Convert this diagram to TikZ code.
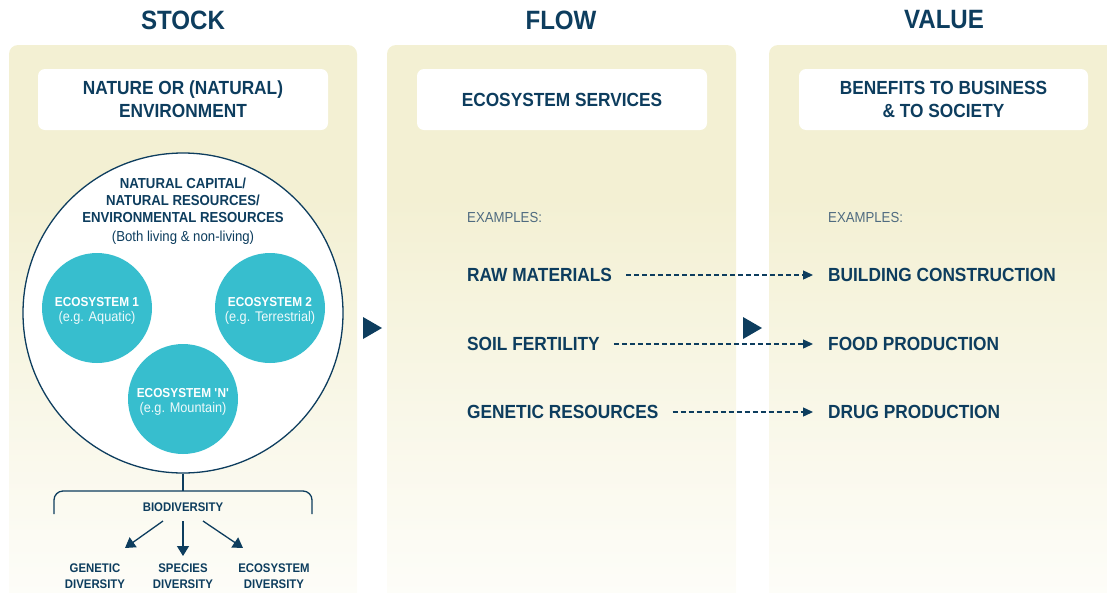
\documentclass[tikz,border=0pt]{standalone}
\usepackage{fontspec}
\setmainfont{Liberation Sans}[FakeStretch=0.91]
\usetikzlibrary{arrows.meta}
\definecolor{navy}{HTML}{0D3D5E}
\definecolor{ecoteal}{HTML}{37BECE}
\definecolor{beige}{HTML}{F3F0D3}
\definecolor{exgray}{HTML}{4F6B80}
\colorlet{beigemid}{beige!55!white}
\colorlet{beigebot}{beige!8!white}
\newcommand{\myecosub}{\fontsize{14}{15}\selectfont\mdseries\color{white!92!ecoteal}}
\pgfdeclareverticalshading{panelshade}{100bp}{color(0bp)=(beigebot); color(25bp)=(beigebot); color(45bp)=(beigemid); color(62bp)=(beige); color(100bp)=(beige)}
\tikzset{
  titletxt/.style={text=navy, font=\fontsize{26.5}{30}\selectfont\bfseries, inner sep=0pt},
  panel/.style={shading=panelshade, rounded corners=9pt},
  wbox/.style={fill=white, rounded corners=7pt, minimum height=61pt, text=navy, align=center, font=\fontsize{19}{23}\selectfont\bfseries},
  item/.style={text=navy, anchor=west, inner sep=0pt, font=\fontsize{19}{23}\selectfont\bfseries},
  extxt/.style={text=exgray, anchor=west, inner sep=0pt, font=\fontsize{14.5}{16}\selectfont},
  eco/.style={circle, fill=ecoteal, minimum size=110pt, inner sep=0pt},
  ecotxt/.style={text=white, align=center, inner sep=0pt, font=\fontsize{13}{15}\selectfont\bfseries},
  divtxt/.style={text=navy, align=center, inner sep=0pt, font=\fontsize{12.5}{16}\selectfont\bfseries},
  flowarr/.style={navy, line width=1.3pt, dash pattern=on 5pt off 3pt, -{Triangle[length=10pt,width=9pt]}, shorten <=14pt, shorten >=15pt},
  bioarr/.style={navy, line width=1.3pt, -{Triangle[length=10pt,width=12pt]}},
  bigtri/.style={fill=navy}
}
\begin{document}
\begin{tikzpicture}[x=1pt,y=-1pt]
\useasboundingbox (0,0) rectangle (1107,592);
\clip (0,0) rectangle (1107,592);
% panels
\shade[panel] (9,630) -- (9,45) -- (357,45) -- (357,630) -- cycle;
\shade[panel] (387,630) -- (387,45) -- (736,45) -- (736,630) -- cycle;
\shade[panel] (769,630) -- (769,45) -- (1125,45) -- (1125,630) -- cycle;
% titles
\node[titletxt] (tstock) at (183,20) {STOCK};
\node[titletxt] (tflow) at (561,20) {FLOW};
\node[titletxt] (tvalue) at (944,20) {VALUE};
% white boxes
\node[wbox, minimum width=290pt] (box1) at (183,99.5) {NATURE OR (NATURAL)\\ENVIRONMENT};
\node[wbox, minimum width=290pt] (box2) at (562,99.5) {ECOSYSTEM SERVICES};
\node[wbox, minimum width=289pt] (box3) at (943.5,99.5) {BENEFITS TO BUSINESS\\\& TO SOCIETY};
% big circle
\node[circle, draw=navy, line width=1.3pt, fill=white, minimum size=320pt, inner sep=0pt] (bigc) at (183,313) {};
\node[text=navy, align=center, inner sep=0pt, font=\fontsize{14.5}{17}\selectfont\bfseries] (captxt) at (183,211)
  {NATURAL CAPITAL/\\NATURAL RESOURCES/\\ENVIRONMENTAL RESOURCES\\[2pt]{\mdseries (Both living \& non-living)}};
% ecosystems
\node[eco] (e1) at (97,308) {};
\node[eco] (e2) at (270,308) {};
\node[eco] (en) at (183,399) {};
\node[ecotxt] (e1t) at (97,311) {ECOSYSTEM 1\\{\myecosub (e.g. Aquatic)}};
\node[ecotxt] (e2t) at (270,311) {ECOSYSTEM 2\\{\myecosub (e.g. Terrestrial)}};
\node[ecotxt] (ent) at (183,402) {ECOSYSTEM \textquotesingle N\textquotesingle\\{\myecosub (e.g. Mountain)}};
% biodiversity bracket
\coordinate (brTop) at (183,491);
\coordinate (brL) at (54,514);
\coordinate (brR) at (312,514);
\draw[navy, line width=1.3pt] (bigc.south) -- (brTop);
\draw[navy, line width=1.3pt, rounded corners=9pt] (brL) |- (brTop) -| (brR);
\node[divtxt] (bio) at (183,507) {BIODIVERSITY};
\node[divtxt] (gen) at (95,576) {GENETIC\\DIVERSITY};
\node[divtxt] (spe) at (183,576) {SPECIES\\DIVERSITY};
\node[divtxt] (ecd) at (274,576) {ECOSYSTEM\\DIVERSITY};
\coordinate (a1s) at (163,521); \coordinate (a1e) at (125,548);
\coordinate (a2s) at (183,521); \coordinate (a2e) at (183,556);
\coordinate (a3s) at (203,521); \coordinate (a3e) at (243,548);
\draw[bioarr] (a1s) -- (a1e);
\draw[bioarr] (a2s) -- (a2e);
\draw[bioarr] (a3s) -- (a3e);
% between-panel triangles
\fill[bigtri] (363,317) -- (382,328) -- (363,339) -- cycle;
\fill[bigtri] (743,317) -- (762,328) -- (743,339) -- cycle;
% flow column
\node[extxt] (ex1) at (467,218) {EXAMPLES:};
\node[item] (raw) at (467,275) {RAW MATERIALS};
\node[item] (soil) at (467,344) {SOIL FERTILITY};
\node[item] (genr) at (467,412) {GENETIC RESOURCES};
% value column
\node[extxt] (ex2) at (828,218) {EXAMPLES:};
\node[item] (build) at (828,275) {BUILDING CONSTRUCTION};
\node[item] (food) at (828,344) {FOOD PRODUCTION};
\node[item] (drug) at (828,412) {DRUG PRODUCTION};
% dashed connectors
\draw[flowarr] (raw.east) -- (build.west);
\draw[flowarr] (soil.east) -- (food.west);
\draw[flowarr] (genr.east) -- (drug.west);
\end{tikzpicture}
\end{document}
